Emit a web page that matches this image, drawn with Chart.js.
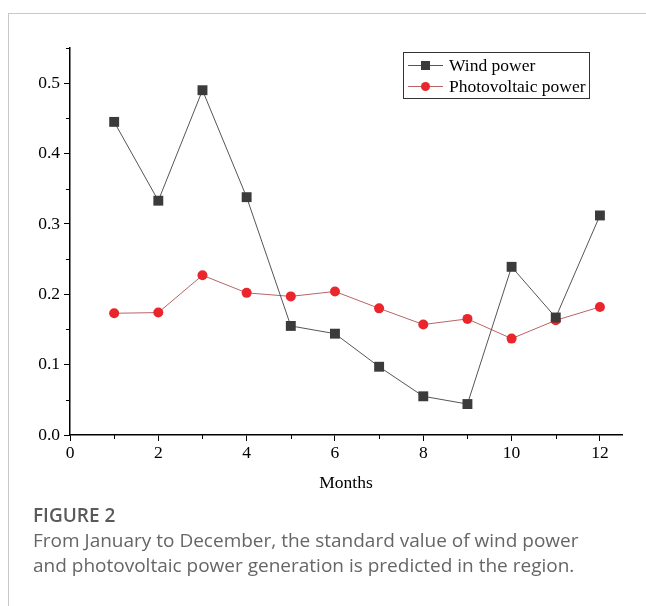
<!DOCTYPE html>
<html>
<head>
<meta charset="utf-8">
<script src="https://cdn.jsdelivr.net/npm/chart.js@4/dist/chart.umd.min.js"></script>
<style>
  body { margin: 0; background: #fff; width: 646px; height: 606px; overflow: hidden; position: relative; }
  .card { position: absolute; left: 8px; top: 13px; width: 700px; height: 700px; border: 1px solid #c9c9c9; }
  .wrap { position: absolute; left: 0; top: 14px; width: 646px; height: 490px; }
  .caption { position: absolute; left: 33px; top: 503px; font-family: "Open Sans", sans-serif; font-size: 19px; line-height: 25px; color: #666; }
  .caption b { font-weight: 600; color: #5a5a5a; }
</style>
</head>
<body>
<div class="card"></div>
<div class="wrap"><canvas id="chart"></canvas></div>
<div class="caption"><b>FIGURE 2</b><br>From January to December, the standard value of wind power<br>and photovoltaic power generation is predicted in the region.</div>
<script>
const months = [1, 2, 3, 4, 5, 6, 7, 8, 9, 10, 11, 12];
const windPower = [0.445, 0.333, 0.490, 0.338, 0.155, 0.144, 0.097, 0.055, 0.044, 0.239, 0.167, 0.312];
const pvPower = [0.173, 0.174, 0.227, 0.202, 0.197, 0.204, 0.180, 0.157, 0.165, 0.137, 0.163, 0.182];
const seriesNames = ["Wind power", "Photovoltaic power"];

const serif = "'Liberation Serif', 'Times New Roman', serif";

// short minor ticks + framed legend drawn on the canvas
const extras = {
    id: 'extras',
    afterDraw(chart) {
        const ctx = chart.ctx;
        const x = chart.scales.x, y = chart.scales.y;
        ctx.save();
        ctx.strokeStyle = '#000';
        ctx.lineWidth = 1;
        ctx.beginPath();
        for (let v = 1; v <= 11; v += 2) {
            const px = Math.round(x.getPixelForValue(v)) + 0.5;
            ctx.moveTo(px, y.bottom);
            ctx.lineTo(px, y.bottom + 4);
        }
        for (let v = 0.05; v < 0.56; v += 0.1) {
            const py = Math.round(y.getPixelForValue(v)) + 0.5;
            ctx.moveTo(x.left, py);
            ctx.lineTo(x.left - 4, py);
        }
        ctx.stroke();

        // legend
        const lx = 403, ly = 52 - 14, lw = 186, lh = 46;
        ctx.strokeStyle = '#333';
        ctx.strokeRect(lx + 0.5, ly + 0.5, lw, lh);
        ctx.font = '17.5px ' + serif;
        ctx.textBaseline = 'middle';
        chart.data.datasets.forEach((ds, i) => {
            const cy = ly + 13 + i * 21;
            ctx.strokeStyle = ds.borderColor;
            ctx.beginPath();
            ctx.moveTo(lx + 5, cy + 0.5);
            ctx.lineTo(lx + 40, cy + 0.5);
            ctx.stroke();
            ctx.fillStyle = ds.pointBackgroundColor;
            if (ds.pointStyle === 'rect') {
                ctx.fillRect(lx + 18, cy - 4, 9, 9);
            } else {
                ctx.beginPath();
                ctx.arc(lx + 22.5, cy + 0.5, 4.5, 0, Math.PI * 2);
                ctx.fill();
            }
            ctx.fillStyle = '#000';
            ctx.fillText(ds.label, lx + 46, cy + 1);
        });
        ctx.restore();
    }
};

new Chart(document.getElementById('chart'), {
    type: 'line',
    data: {
        labels: months,
        datasets: [{
            label: seriesNames[0],
            data: months.map((m, i) => ({ x: m, y: windPower[i] })),
            borderColor: '#555',
            borderWidth: 1,
            pointStyle: 'rect',
            pointRadius: 7,
            pointBackgroundColor: '#3b3b3b',
            pointBorderColor: '#3b3b3b',
            pointBorderWidth: 0,
            tension: 0
        }, {
            label: seriesNames[1],
            data: months.map((m, i) => ({ x: m, y: pvPower[i] })),
            borderColor: '#b86464',
            borderWidth: 1,
            pointStyle: 'circle',
            pointRadius: 5,
            pointBackgroundColor: '#e8262c',
            pointBorderColor: '#e8262c',
            pointBorderWidth: 0,
            tension: 0
        }]
    },
    options: {
        responsive: true,
        maintainAspectRatio: false,
        animation: false,
        layout: { padding: { top: 34, right: 24, left: 0, bottom: 0 } },
        plugins: { legend: { display: false }, tooltip: { enabled: false } },
        scales: {
            x: {
                type: 'linear',
                min: 0,
                max: 12.5,
                afterBuildTicks: (s) => { s.ticks = [0, 2, 4, 6, 8, 10, 12].map(v => ({ value: v })); },
                afterFit: (s) => { s.height = 69; },
                border: { color: '#000', width: 1.5 },
                grid: { drawOnChartArea: false, tickLength: 6, tickColor: '#000' },
                ticks: { color: '#000', font: { family: serif, size: 17.5 }, padding: 2, maxRotation: 0 },
                title: { display: true, text: 'Months', color: '#000', font: { family: serif, size: 17.5 }, padding: { top: 4, bottom: 10 } }
            },
            y: {
                min: 0,
                max: 0.55,
                afterBuildTicks: (s) => { s.ticks = [0, 0.1, 0.2, 0.3, 0.4, 0.5].map(v => ({ value: v })); },
                afterFit: (s) => { s.width = 70; },
                border: { color: '#000', width: 1.5 },
                grid: { drawOnChartArea: false, tickLength: 6, tickColor: '#000' },
                ticks: { color: '#000', font: { family: serif, size: 17.5 }, padding: 4, callback: (v) => v.toFixed(1) }
            }
        }
    },
    plugins: [extras]
});
</script>
</body>
</html>
